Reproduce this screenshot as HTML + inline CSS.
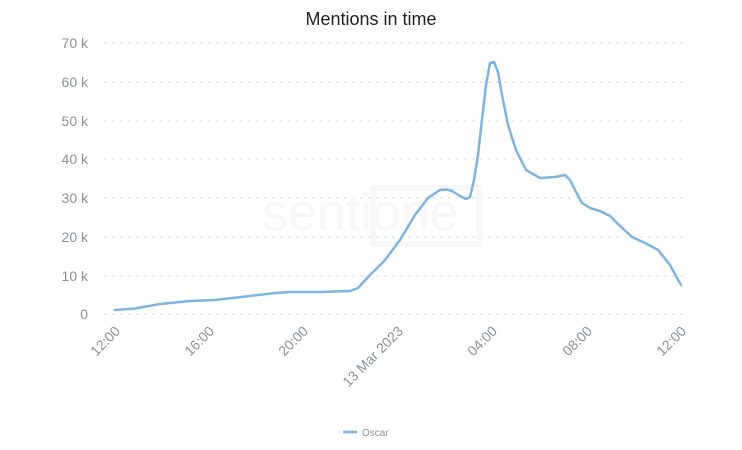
<!DOCTYPE html>
<html><head><meta charset="utf-8"><style>body{margin:0;background:#fff}svg{display:block;font-family:"Liberation Sans",sans-serif}</style></head>
<body>
<svg width="742" height="450" viewBox="0 0 742 450">
<text x="371" y="25" text-anchor="middle" font-size="18" fill="#222">Mentions in time</text>
<g stroke="#cfd3d8" stroke-width="1.3" stroke-dasharray="1,7" stroke-linecap="round">
<line x1="105" y1="43" x2="685" y2="43"/><line x1="105" y1="82" x2="685" y2="82"/><line x1="105" y1="121" x2="685" y2="121"/><line x1="105" y1="159" x2="685" y2="159"/><line x1="105" y1="198" x2="685" y2="198"/><line x1="105" y1="237" x2="685" y2="237"/><line x1="105" y1="276" x2="685" y2="276"/><line x1="105" y1="314" x2="685" y2="314"/>
</g>
<rect x="373" y="188" width="106" height="56" fill="none" stroke="#f7f7f8" stroke-width="6"/>
<text x="262" y="230" font-size="52" fill="#f7f7f8">sentione</text>
<g font-size="14" fill="#8a909b" text-anchor="end">
<text x="88" y="48">70 k</text><text x="88" y="87">60 k</text><text x="88" y="126">50 k</text><text x="88" y="164">40 k</text><text x="88" y="203">30 k</text><text x="88" y="242">20 k</text><text x="88" y="281">10 k</text><text x="88" y="319">0</text>
</g>
<g font-size="14" fill="#8a909b" text-anchor="end">
<text transform="translate(121,332) rotate(-45)">12:00</text>
<text transform="translate(215,332) rotate(-45)">16:00</text>
<text transform="translate(309,332) rotate(-45)">20:00</text>
<text transform="translate(404,332) rotate(-45)">13 Mar 2023</text>
<text transform="translate(498,332) rotate(-45)">04:00</text>
<text transform="translate(593,332) rotate(-45)">08:00</text>
<text transform="translate(687,332) rotate(-45)">12:00</text>
</g>
<polyline fill="none" stroke="#7cb5e2" stroke-width="2.5" stroke-linejoin="round" stroke-linecap="round" points="115,310 135,308.5 160,304 190,301 215,300 250,296 275,293 290,292 320,292 350,291 358,288 370,275 385,260 400,240 415,215 428,198 440,190 447,189.5 452,191 460,196 466,199 470,197 474,180 478,155 482,120 486,85 490,63 494,62 498,72 502,95 508,125 516,150 526,170 540,178 555,177 565,175 570,180 575,190 582,203 590,208 600,211 610,216 620,226 632,237 645,243 658,250 670,265 681,285"/>
<line x1="343" y1="432" x2="357" y2="432" stroke="#7cb5e2" stroke-width="2.5"/>
<text x="362" y="436" font-size="10" fill="#8a909b">Oscar</text>
</svg>
</body></html>
